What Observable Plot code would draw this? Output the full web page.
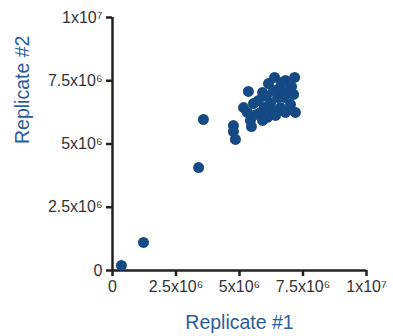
<!DOCTYPE html>
<html>
<head>
<meta charset="utf-8">
<script src="https://cdn.jsdelivr.net/npm/d3@7"></script>
<script src="https://cdn.jsdelivr.net/npm/@observablehq/plot@0.6"></script>
<style>
  html, body { margin: 0; padding: 0; background: #fff; }
  #chart svg { display: block; }
</style>
</head>
<body>
<div id="chart"></div>
<script>
// Replicate #1 values (x), in units of 1e6
const replicate1 = [0.35, 1.22, 3.39, 3.58, 4.76, 4.76, 4.84, 5.35, 5.91, 6.14,
  6.38, 6.81, 7.17, 7.05, 7.13, 5.16, 5.55, 5.43, 5.47, 6.10,
  6.81, 7.20, 6.50, 6.61, 5.83, 6.22, 5.75, 5.98, 6.30, 6.77,
  6.93, 6.57, 5.67, 5.91, 6.42, 6.06, 7.01, 6.65, 5.31, 6.34];
// Replicate #2 values (y), in units of 1e6
const replicate2 = [0.20, 1.11, 4.07, 5.97, 5.73, 5.49, 5.18, 7.08, 7.04, 7.39,
  7.63, 7.51, 7.63, 7.27, 6.96, 6.44, 6.60, 5.93, 5.69, 6.05,
  6.25, 6.25, 6.84, 6.44, 6.25, 6.60, 6.72, 6.44, 6.32, 6.84,
  7.11, 7.19, 6.17, 5.93, 6.13, 6.88, 6.56, 7.43, 6.25, 7.11];
const tickValues = [0, 2.5e6, 5e6, 7.5e6, 1e7];
const tickLabels = ["0", "2.5x10⁶", "5x10⁶", "7.5x10⁶", "1x10⁷"];
const xTitle = "Replicate #1";
const yTitle = "Replicate #2";

const data = replicate1.map((v, i) => ({x: v * 1e6, y: replicate2[i] * 1e6}));
const fmt = d => tickLabels[tickValues.indexOf(d)];

const axisColor = "#231f20";
const blue = "#154a85";
const titleBlue = "#2c5d9b";
const font = "'Liberation Sans', Arial, sans-serif";

const chart = Plot.plot({
  width: 393,
  height: 336,
  marginLeft: 112,
  marginRight: 27,
  marginTop: 17,
  marginBottom: 66,
  style: {fontFamily: font, background: "#fff"},
  x: {domain: [0, 1e7]},
  y: {domain: [0, 1e7]},
  marks: [
    Plot.axisX({ticks: tickValues, tickFormat: fmt, tickSize: 6, tickPadding: 4,
      stroke: axisColor, strokeWidth: 2.5, fill: "#333", fontSize: 16, label: null}),
    Plot.axisY({ticks: tickValues, tickFormat: fmt, tickSize: 6, tickPadding: 4,
      stroke: axisColor, strokeWidth: 2.5, fill: "#333", fontSize: 16, label: null}),
    Plot.ruleY([0], {stroke: axisColor, strokeWidth: 2.5}),
    Plot.ruleX([0], {stroke: axisColor, strokeWidth: 2.5}),
    Plot.dot(data, {x: "x", y: "y", r: 5.5, fill: blue, stroke: "none"}),
    Plot.text([xTitle], {frameAnchor: "bottom", dy: 52, fill: titleBlue, fontSize: 19.5, lineAnchor: "middle"}),
    Plot.text([yTitle], {frameAnchor: "left", dx: -90, rotate: -90, fill: titleBlue, fontSize: 19.5, lineAnchor: "middle"})
  ]
});
document.getElementById("chart").appendChild(chart);
</script>
</body>
</html>
